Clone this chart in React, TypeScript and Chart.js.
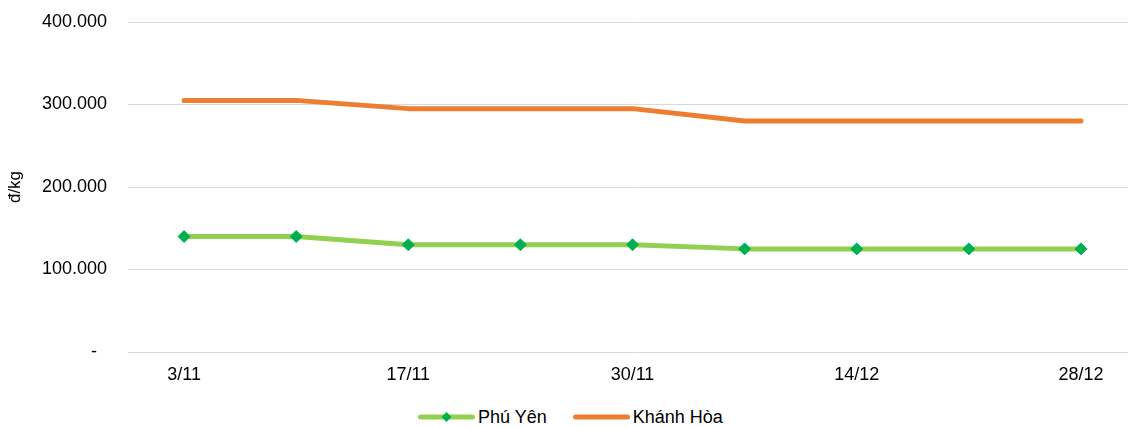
import React, { useEffect, useRef } from "react";
import { Chart, registerables } from "chart.js";

Chart.register(...registerables);

const categories = ["3/11", "10/11", "17/11", "24/11", "30/11", "7/12", "14/12", "21/12", "28/12"];
const phuYen = [140000, 140000, 130000, 130000, 130000, 125000, 125000, 125000, 125000];
const khanhHoa = [305000, 305000, 295000, 295000, 295000, 280000, 280000, 280000, 280000];
const seriesNames = ["Phú Yên", "Khánh Hòa"];
const yTitle = "đ/kg";

const FONT = "'Liberation Sans', Arial, sans-serif";
const GREEN = "#92D050";
const GREEN_MARK = "#00B050";
const ORANGE = "#ED7D31";

function fmt(v: number): string {
  if (v === 0) return "-  ";
  return String(v).replace(/\B(?=(\d{3})+(?!\d))/g, ".");
}

export default function App() {
  const ref = useRef<HTMLCanvasElement | null>(null);

  useEffect(() => {
    document.body.style.margin = "0";
    const canvas = ref.current;
    if (!canvas) return;
    const chart = new Chart(canvas, {
      type: "line",
      data: {
        labels: categories,
        datasets: [
          {
            label: seriesNames[0],
            data: phuYen,
            borderColor: GREEN,
            backgroundColor: GREEN_MARK,
            borderWidth: 5,
            borderCapStyle: "round",
            borderJoinStyle: "round",
            pointStyle: "rectRot",
            pointRadius: 6,
            pointBorderWidth: 1,
            pointBorderColor: GREEN_MARK,
            pointBackgroundColor: GREEN_MARK,
            tension: 0,
          },
          {
            label: seriesNames[1],
            data: khanhHoa,
            borderColor: ORANGE,
            backgroundColor: ORANGE,
            borderWidth: 5,
            borderCapStyle: "round",
            borderJoinStyle: "round",
            pointRadius: 0,
            tension: 0,
          },
        ],
      },
      options: {
        responsive: false,
        animation: false,
        devicePixelRatio: 1,
        layout: { padding: { top: 22, right: 0, bottom: 0, left: 0 } },
        plugins: {
          legend: { display: false },
          tooltip: { enabled: false },
        },
        scales: {
          x: {
            offset: true,
            grid: { display: false, drawTicks: false },
            border: { display: false },
            ticks: {
              autoSkip: false,
              maxRotation: 0,
              padding: 12,
              color: "#000",
              font: { family: FONT, size: 18 },
              callback: (_v: any, i: number) => (i % 2 === 0 ? categories[i] : ""),
            },
            afterFit: (s: any) => {
              s.height = 48;
              s.paddingLeft = 0;
              s.paddingRight = 0;
            },
          },
          y: {
            min: 0,
            max: 400000,
            grid: { color: "#D9D9D9", lineWidth: 1, drawTicks: false },
            border: { display: false },
            ticks: {
              stepSize: 100000,
              padding: 21,
              color: "#000",
              font: { family: FONT, size: 18 },
              callback: (v: any) => fmt(Number(v)),
            },
            title: {
              display: true,
              text: yTitle,
              color: "#000",
              font: { family: FONT, size: 17 },
              padding: { top: 5, bottom: 4 },
            },
            afterFit: (s: any) => {
              s.width = 128;
              s.paddingTop = 0;
              s.paddingBottom = 0;
            },
          },
        },
      },
    });
    return () => chart.destroy();
  }, []);

  const legendItem = (color: string, name: string, marker: boolean, ml: number) => (
    <div style={{ display: "flex", alignItems: "center", marginLeft: ml }}>
      <svg width={57} height={12} style={{ display: "block" }}>
        <line x1={2.5} y1={6} x2={54.5} y2={6} stroke={color} strokeWidth={5} strokeLinecap="round" />
        {marker && <polygon points="28.5,1 33.5,6 28.5,11 23.5,6" fill={GREEN_MARK} />}
      </svg>
      <span style={{ marginLeft: 3 }}>{name}</span>
    </div>
  );

  return (
    <div style={{ position: "relative", width: 1128, height: 427, fontFamily: FONT, overflow: "hidden" }}>
      <canvas ref={ref} width={1144} height={400} style={{ position: "absolute", left: 0, top: 0 }} />
      <div
        style={{
          position: "absolute",
          left: 418,
          top: 406,
          height: 22,
          display: "flex",
          alignItems: "center",
          fontSize: 18,
          lineHeight: "22px",
          color: "#000",
          whiteSpace: "nowrap",
        }}
      >
        {legendItem(GREEN, seriesNames[0], true, 0)}
        {legendItem(ORANGE, seriesNames[1], false, 26)}
      </div>
    </div>
  );
}
